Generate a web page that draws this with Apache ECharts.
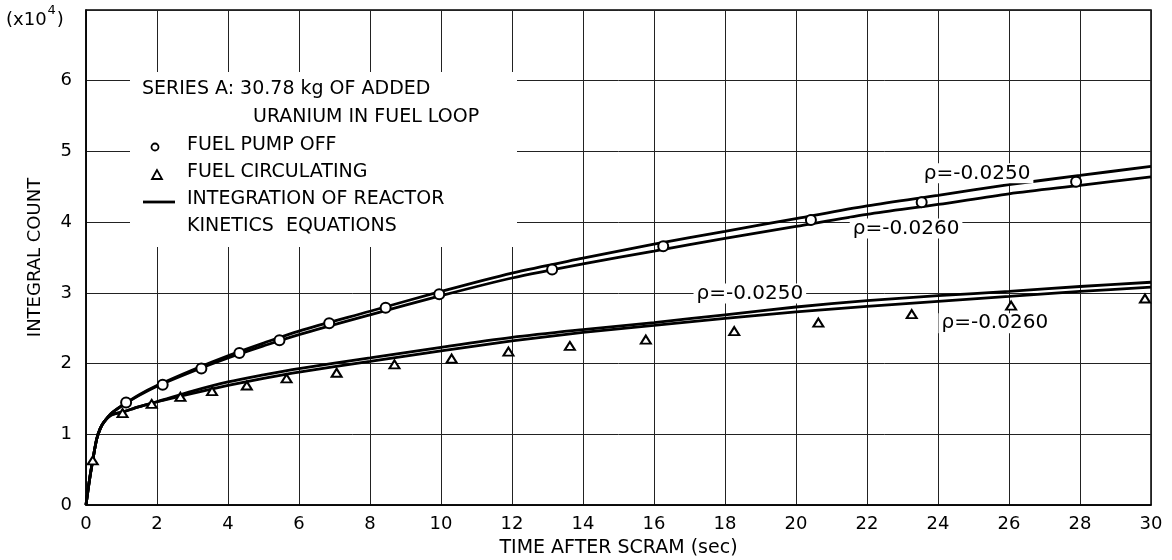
<!DOCTYPE html>
<html>
<head>
<meta charset="utf-8">
<script src="https://cdn.jsdelivr.net/npm/echarts@6/dist/echarts.min.js"></script>
<style>
html,body{margin:0;padding:0;background:#fff;}
#chart{width:1172px;height:560px;}
</style>
</head>
<body>
<div id="chart"></div>
<script>
// ---- data (integral count in units of 10^4) ----
const curveX = [0,0.1,0.2,0.3,0.4,0.5,0.7,1,1.5,2,3,4,5,6,8,10,12,14,16,18,20,22,24,26,28,30];
// Integration of reactor kinetics equations, fuel pump off
const pumpOffRho250 = [0,0.36,0.66,0.93,1.08,1.17,1.29,1.40,1.56,1.69,1.91,2.11,2.29,2.46,2.74,3.02,3.28,3.49,3.69,3.87,4.05,4.23,4.38,4.53,4.66,4.79];
const pumpOffRho260 = [0,0.36,0.66,0.93,1.08,1.17,1.29,1.40,1.55,1.68,1.89,2.08,2.25,2.41,2.69,2.96,3.21,3.41,3.59,3.77,3.94,4.11,4.25,4.40,4.52,4.64];
// Integration of reactor kinetics equations, fuel circulating
const circRho250 = [0,0.36,0.66,0.93,1.08,1.17,1.27,1.31,1.39,1.46,1.61,1.74,1.84,1.93,2.08,2.23,2.37,2.48,2.58,2.69,2.80,2.89,2.96,3.02,3.09,3.15];
const circRho260 = [0,0.36,0.66,0.93,1.08,1.17,1.27,1.31,1.39,1.46,1.58,1.69,1.79,1.88,2.03,2.18,2.32,2.44,2.54,2.64,2.73,2.81,2.88,2.95,3.02,3.08];
// Measured points
const pumpOffX = [1.13,2.16,3.25,4.32,5.45,6.85,8.44,9.95,13.13,16.26,20.42,23.54,27.89];
const pumpOffY = [1.45,1.70,1.93,2.15,2.33,2.57,2.79,2.98,3.33,3.66,4.03,4.28,4.57];
const circX = [0.19,1.03,1.85,2.66,3.55,4.53,5.65,7.06,8.69,10.3,11.9,13.63,15.77,18.26,20.63,23.26,26.06,29.83];
const circY = [0.63,1.30,1.43,1.53,1.61,1.69,1.79,1.87,1.99,2.07,2.17,2.25,2.34,2.46,2.58,2.70,2.82,2.92];
// Curve annotations [x, y, text]
const rhoLabels = [
  [25.1, 4.69, 'ρ=-0.0250'],
  [23.1, 3.91, 'ρ=-0.0260'],
  [18.7, 2.99, 'ρ=-0.0250'],
  [25.6, 2.57, 'ρ=-0.0260']
];
const legendLines = [
  'SERIES A: 30.78 kg OF ADDED',
  'URANIUM IN FUEL LOOP',
  'FUEL PUMP OFF',
  'FUEL CIRCULATING',
  'INTEGRATION OF REACTOR',
  'KINETICS  EQUATIONS'
];
const xAxisTitle = 'TIME AFTER SCRAM (sec)';
const yAxisTitle = 'INTEGRAL COUNT';

const FONT = 'DejaVu Sans';
const zip = (xs, ys) => xs.map((x, i) => [x, ys[i]]);

const lineSeries = (data) => ({
  type: 'line', data: zip(curveX, data), showSymbol: false, smooth: 0.3,
  lineStyle: { color: '#000', width: 2.8, opacity: 1 }, z: 3, silent: true
});

const chart = echarts.init(document.getElementById('chart'), null, { renderer: 'canvas' });
const txt = (x, y, text) => ({
  type: 'text', left: x, top: y, z: 11,
  style: { text: text, font: '19px "' + FONT + '"', fill: '#000' }
});

chart.setOption({
  animation: false,
  backgroundColor: '#fff',
  grid: { left: 86, right: 21, top: 10, bottom: 55, containLabel: false, outerBoundsMode: 'none',
    show: true, borderColor: '#000', borderWidth: 1.5, backgroundColor: 'transparent' },
  xAxis: {
    type: 'value', min: 0, max: 30, interval: 2,
    name: xAxisTitle, nameLocation: 'middle', nameGap: 34,
    nameTextStyle: { fontFamily: FONT, fontSize: 19, color: '#000' },
    axisLine: { show: true, lineStyle: { color: '#000', width: 1.5 } },
    axisTick: { show: false },
    axisLabel: { fontFamily: FONT, fontSize: 18, color: '#000', margin: 10 },
    splitLine: { show: true, lineStyle: { color: '#222', width: 1 } }
  },
  yAxis: {
    type: 'value', min: 0, max: 7, interval: 1,
    name: yAxisTitle, nameLocation: 'middle', nameGap: 42,
    nameTextStyle: { fontFamily: FONT, fontSize: 18, color: '#000' },
    axisLine: { show: true, lineStyle: { color: '#000', width: 1.5 } },
    axisTick: { show: false },
    axisLabel: { fontFamily: FONT, fontSize: 18, color: '#000', margin: 14,
      formatter: v => (v === 7 ? '' : String(v)) },
    splitLine: { show: true, lineStyle: { color: '#222', width: 1 } }
  },
  graphic: [
    { type: 'rect', shape: { x: 130, y: 72, width: 387, height: 175 }, style: { fill: '#fff' }, z: 10 },
    txt(142, 80, legendLines[0]),
    txt(253, 108, legendLines[1]),
    { type: 'circle', shape: { cx: 155, cy: 147, r: 3.5 }, style: { fill: '#fff', stroke: '#000', lineWidth: 1.8 }, z: 11 },
    txt(187, 136, legendLines[2]),
    { type: 'polygon', shape: { points: [[157, 170], [152, 179], [162, 179]] }, style: { fill: '#fff', stroke: '#000', lineWidth: 1.8 }, z: 11 },
    txt(187, 163, legendLines[3]),
    { type: 'line', shape: { x1: 143, y1: 202, x2: 175, y2: 202 }, style: { stroke: '#000', lineWidth: 2.8 }, z: 11 },
    txt(187, 190, legendLines[4]),
    txt(187, 217, legendLines[5]),
    {
      type: 'text', left: 6, top: 4, z: 11,
      style: {
        text: '{a|(x10}{s|4}{a|)}',
        rich: {
          a: { fontFamily: FONT, fontSize: 18, fill: '#000', padding: [7, 0, 0, 0] },
          s: { fontFamily: FONT, fontSize: 13, fill: '#000', verticalAlign: 'top', padding: [0, 1, 10, 1] }
        }
      }
    }
  ],
  series: [
    lineSeries(pumpOffRho250),
    lineSeries(pumpOffRho260),
    lineSeries(circRho250),
    lineSeries(circRho260),
    {
      type: 'scatter', data: zip(pumpOffX, pumpOffY), symbol: 'circle', symbolSize: 10,
      itemStyle: { color: '#fff', borderColor: '#000', borderWidth: 2, opacity: 1 }, z: 5
    },
    {
      type: 'scatter', data: zip(circX, circY), symbol: 'triangle', symbolSize: [10, 8],
      itemStyle: { color: '#fff', borderColor: '#000', borderWidth: 2, opacity: 1 }, z: 5
    },
    {
      type: 'scatter', data: rhoLabels, symbolSize: 0, z: 6,
      itemStyle: { opacity: 1 },
      label: {
        show: true, position: 'inside', formatter: p => p.data[2],
        fontFamily: FONT, fontSize: 20, color: '#000', backgroundColor: '#fff', padding: [0, 3]
      }
    }
  ]
});
</script>
</body>
</html>
